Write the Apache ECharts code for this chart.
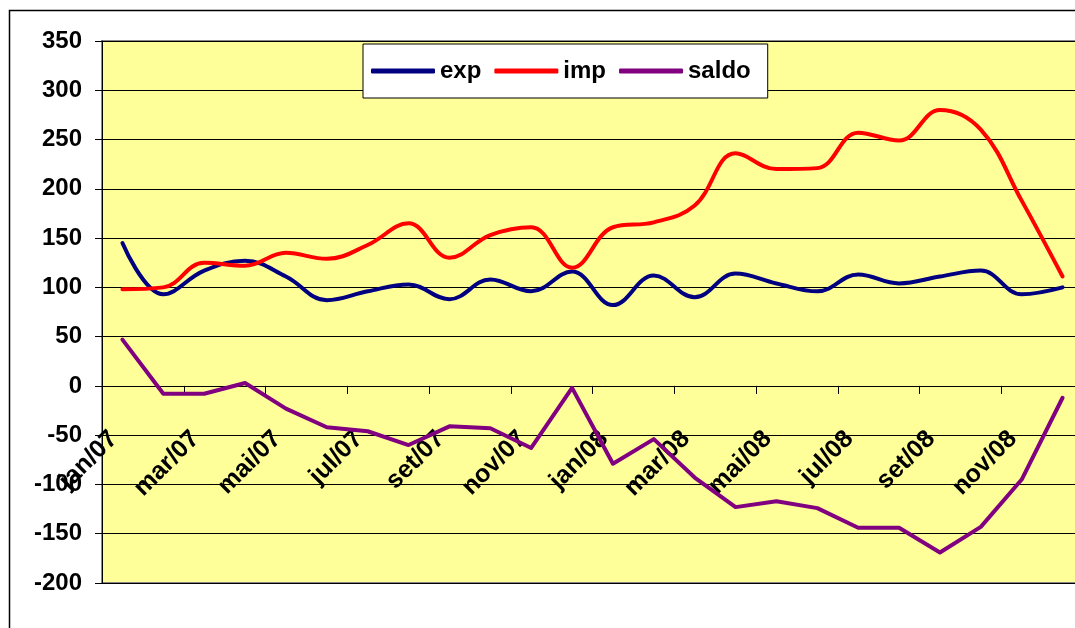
<!DOCTYPE html>
<html>
<head>
<meta charset="utf-8">
<script src="https://cdn.jsdelivr.net/npm/echarts@6/dist/echarts.min.js"></script>
<style>
  html, body { margin: 0; padding: 0; background: #fff; }
  #chart { width: 1075px; height: 628px; }
</style>
</head>
<body>
<div id="chart"></div>
<script>
const months = ['jan/07','fev/07','mar/07','abr/07','mai/07','jun/07','jul/07','ago/07','set/07','out/07','nov/07','dez/07',
                'jan/08','fev/08','mar/08','abr/08','mai/08','jun/08','jul/08','ago/08','set/08','out/08','nov/08','dez/08'];
const expValues = [145, 93, 117, 127, 111, 87, 96, 103, 88, 108, 96, 116, 82, 112, 90, 114, 104, 96, 113, 104, 111, 117, 93, 100];
const impValues = [98, 100, 125, 122, 135, 129, 143, 165, 130, 153, 161, 120, 161, 166, 183, 236, 220, 221, 257, 249, 280, 260, 188, 111];
const saldoValues = [47, -8, -8, 3, -23, -42, -46, -60, -41, -43, -63, -2, -79, -54, -93, -123, -117, -124, -144, -144, -169, -143, -95, -12];
const seriesNames = ['exp', 'imp', 'saldo'];

const FONT = '"Liberation Sans", Arial, sans-serif';
const chart = echarts.init(document.getElementById('chart'), null, { renderer: 'canvas' });

const GRID_TOP = 41, GRID_H = 542, Y_MIN = -200, Y_MAX = 350;
// distance from grid bottom to the zero line, used to place the category axis on zero
const zeroOffset = -GRID_H * (0 - Y_MIN) / (Y_MAX - Y_MIN);

chart.setOption({
  backgroundColor: '#ffffff',
  animation: false,
  graphic: [{
    type: 'rect', z: -10, silent: true,
    shape: { x: 9.5, y: 10.5, width: 1300, height: 900 },
    style: { fill: 'none', stroke: '#000', lineWidth: 1.5 }
  }],
  legend: {
    data: seriesNames,
    left: 363, top: 44,
    orient: 'horizontal',
    backgroundColor: '#ffffff',
    borderColor: '#000',
    borderWidth: 1,
    padding: [15, 17, 15, 8],
    itemGap: 13,
    itemWidth: 64,
    itemHeight: 5,
    icon: 'roundRect',
    textStyle: { fontFamily: FONT, fontWeight: 'bold', fontSize: 24, color: '#000' }
  },
  grid: {
    left: 102, top: GRID_TOP, width: 981, height: GRID_H,
    show: true,
    backgroundColor: '#FFFF99',
    borderColor: '#888888',
    borderWidth: 2,
    containLabel: false,
    outerBoundsMode: 'none'
  },
  xAxis: {
    type: 'category',
    data: months,
    boundaryGap: true,
    position: 'bottom',
    offset: zeroOffset,
    axisLine: { show: true, onZero: false, lineStyle: { color: '#000', width: 1 } },
    axisTick: { show: true, interval: 1, length: 8, lineStyle: { color: '#000', width: 1 } },
    axisLabel: {
      interval: 1, rotate: 45, margin: 58,
      align: 'right', verticalAlign: 'bottom',
      fontFamily: FONT, fontWeight: 'bold', fontSize: 25, color: '#000'
    },
    splitLine: { show: false }
  },
  yAxis: {
    type: 'value',
    min: Y_MIN, max: Y_MAX, interval: 50,
    axisLine: { show: true, lineStyle: { color: '#000', width: 1 } },
    axisTick: { show: true, length: 7, lineStyle: { color: '#000', width: 1 } },
    axisLabel: { margin: 20, fontFamily: FONT, fontWeight: 'bold', fontSize: 24, color: '#000' },
    splitLine: { show: true, lineStyle: { color: '#000', width: 1 } }
  },
  series: [
    {
      name: seriesNames[0], type: 'line', data: expValues,
      smooth: 0.4, showSymbol: false, symbol: 'none',
      lineStyle: { color: '#000080', width: 4, cap: 'round', join: 'round' },
      itemStyle: { color: '#000080' }
    },
    {
      name: seriesNames[1], type: 'line', data: impValues,
      smooth: 0.4, showSymbol: false, symbol: 'none',
      lineStyle: { color: '#FF0000', width: 4, cap: 'round', join: 'round' },
      itemStyle: { color: '#FF0000' }
    },
    {
      name: seriesNames[2], type: 'line', data: saldoValues,
      smooth: false, showSymbol: false, symbol: 'none',
      lineStyle: { color: '#800080', width: 4, cap: 'round', join: 'round' },
      itemStyle: { color: '#800080' }
    }
  ]
});
</script>
</body>
</html>
